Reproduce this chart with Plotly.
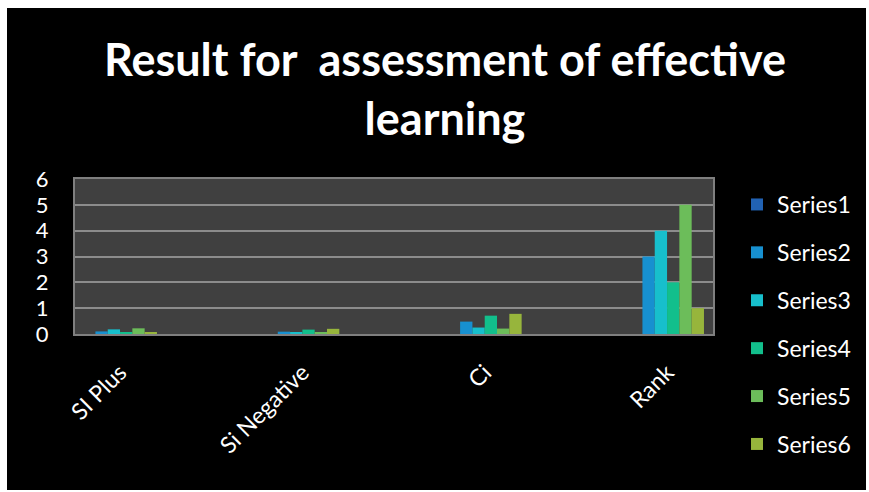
import plotly.graph_objects as go

categories = ["SI Plus", "Si Negative", "Ci", "Rank"]
series_names = ["Series1", "Series2", "Series3", "Series4", "Series5", "Series6"]
series1 = [0, 0, 0, 0]
series2 = [0.10, 0.09, 0.48, 3]
series3 = [0.18, 0.05, 0.25, 4]
series4 = [0.06, 0.17, 0.71, 2]
series5 = [0.22, 0.05, 0.21, 5]
series6 = [0.06, 0.20, 0.78, 1]
values = [series1, series2, series3, series4, series5, series6]
colors = ["#2162b3", "#1790d0", "#17bfcc", "#12bf8c", "#6cbd5a", "#97b53c"]
yticks = [0, 1, 2, 3, 4, 5, 6]

W, H = 869, 492
L, R, T, B = 75, 713, 179, 334
pw, ph = R - L, B - T

def px(x):
    return (x - L) / pw

def py(y):
    return (B - y) / ph

fig = go.Figure()
for i, (name, vals) in enumerate(zip(series_names, values)):
    fig.add_trace(go.Bar(
        x=list(range(len(categories))), y=vals, name=name,
        marker=dict(color=colors[i], line=dict(width=0)),
        legendgroup=name,
    ))

font = "Lato, 'Open Sans', sans-serif"
fig.update_layout(
    width=W, height=H,
    margin=dict(l=L, r=W - R, t=T, b=H - B, pad=0, autoexpand=False),
    paper_bgcolor="white",
    plot_bgcolor="rgba(0,0,0,0)",
    barmode="group", bargap=0.595, bargroupgap=0,
    font=dict(family=font, color="white", size=20),
    title=dict(
        text="<b>Result for  assessment of effective<br>learning</b>",
        font=dict(family=font, size=45, color="white"),
        x=445 / W, xanchor="center", xref="container",
        y=1 - 76 / H, yanchor="top", yref="container",
        automargin=False,
    ),
    xaxis=dict(
        range=[-0.247, 3.252], tickmode="array",
        tickvals=list(range(len(categories))), ticktext=categories,
        tickangle=-45, showgrid=False, zeroline=False,
        showline=True, linecolor="#7f7f7f", linewidth=2,
        tickfont=dict(size=23, color="white", family=font),
        ticks="", ticklabelstandoff=14, mirror=True, automargin=False,
    ),
    yaxis=dict(
        range=[0, 6], tickmode="array", tickvals=yticks,
        ticktext=[str(v) for v in yticks],
        showgrid=True, gridcolor="#8c8c8c", gridwidth=1.5,
        zeroline=False, showline=True, linecolor="#7f7f7f", linewidth=2,
        tickfont=dict(size=22, color="white", family=font),
        ticks="", ticklabelstandoff=20, mirror=True, automargin=False,
    ),
    legend=dict(
        x=px(737), xanchor="left", y=py(183), yanchor="top",
        font=dict(size=23, color="white", family=font),
        traceorder="grouped", tracegroupgap=15,
        bgcolor="rgba(0,0,0,0)", borderwidth=0,
        maxheight=400,
    ),
    shapes=[
        dict(type="rect", xref="paper", yref="paper",
             x0=px(7), x1=px(866), y0=py(490), y1=py(8),
             fillcolor="black", line=dict(width=0), layer="below"),
        dict(type="rect", xref="paper", yref="paper",
             x0=0, x1=1, y0=0, y1=1,
             fillcolor="#404040", line=dict(width=0), layer="below"),
    ],
)

fig.write_html("out.html")
